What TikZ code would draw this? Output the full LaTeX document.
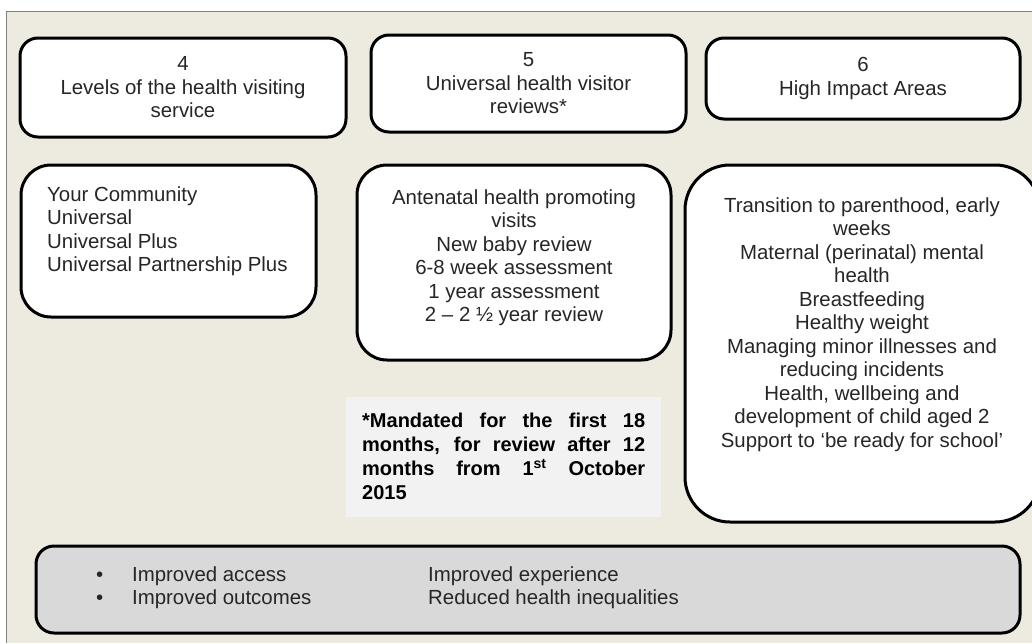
\documentclass[tikz,border=0pt]{standalone}
\usepackage{fontspec}
\setmainfont{Liberation Sans}
\usetikzlibrary{positioning}

\definecolor{paper}{RGB}{237,234,224}
\definecolor{notegray}{RGB}{242,242,242}
\definecolor{outcomegray}{RGB}{217,217,217}

\tikzset{
  panel/.style={draw=black,line width=3pt,fill=white,rounded corners=18pt,inner sep=0pt},
  bodytext/.style={font=\fontsize{20.4}{23.5}\selectfont,inner sep=0pt,text=black!85}
}

\begin{document}
\begin{tikzpicture}[x=1pt,y=-1pt]
  \useasboundingbox (0,0) rectangle (1032,643);
  % page background and frame
  \fill[paper] (6,11) rectangle (1032,643);
  \draw[gray,line width=1pt] (6,643) -- (6,11) -- (1032,11);

  % heading boxes
  \node[panel,bodytext,align=center,minimum width=326,minimum height=99] (levhead) at (183,87.5)
    {4\\Levels of the health visiting\\service};
  \node[panel,bodytext,align=center,minimum width=315,minimum height=97] (revhead) at (528.5,83.5)
    {5\\Universal health visitor\\reviews*};
  \node[panel,bodytext,align=center,minimum width=314,minimum height=81] (hiahead) at (863,78.5)
    {6\\High Impact Areas};

  % content boxes
  \node[panel,rounded corners=30pt,minimum width=295,minimum height=152] (levels) at (168.5,241) {};
  \node[bodytext,align=left,anchor=north west] (levtext) at (47,186.5)
    {Your Community\\Universal\\Universal Plus\\Universal Partnership Plus};

  \node[panel,rounded corners=30pt,minimum width=314,minimum height=195] (reviews) at (514,262.5) {};
  \node[bodytext,align=center,anchor=north] (revtext) at (514,189.5)
    {Antenatal health promoting\\visits\\New baby review\\6-8 week assessment\\1 year assessment\\2 -- 2 \textonehalf{} year review};

  \node[panel,rounded corners=45pt,minimum width=355,minimum height=357] (hia) at (862.5,343.5) {};
  \node[bodytext,align=center,anchor=north] (hiatext) at (862,197.5)
    {Transition to parenthood, early\\weeks\\Maternal (perinatal) mental\\health\\Breastfeeding\\Healthy weight\\Managing minor illnesses and\\reducing incidents\\Health, wellbeing and\\development of child aged 2\\Support to `be ready for school'};

  % footnote on the mandated reviews
  \node[fill=notegray,minimum width=315,minimum height=120,inner sep=0pt] (note) at (503.5,457) {};
  \node[anchor=north west,inner sep=0pt,text=black] (notetext) at (362,413)
    {\parbox{283pt}{\fontsize{20}{24}\selectfont\bfseries\hyphenpenalty=10000
      *Mandated for the first 18\linebreak months, for review after 12\linebreak
      months from 1\textsuperscript{st} October\linebreak 2015}};

  % outcomes
  \node[panel,fill=outcomegray,minimum width=984,minimum height=87] (outcomes) at (528,589.5) {};
  \node[bodytext,anchor=north west] (outtext) at (96,565)
    {\begin{tabular}{@{}p{36pt}@{}p{296pt}@{}l@{}}
      \textbullet & Improved access & Improved experience\\[-0.5pt]
      \textbullet & Improved outcomes & Reduced health inequalities
    \end{tabular}};
\end{tikzpicture}
\end{document}
